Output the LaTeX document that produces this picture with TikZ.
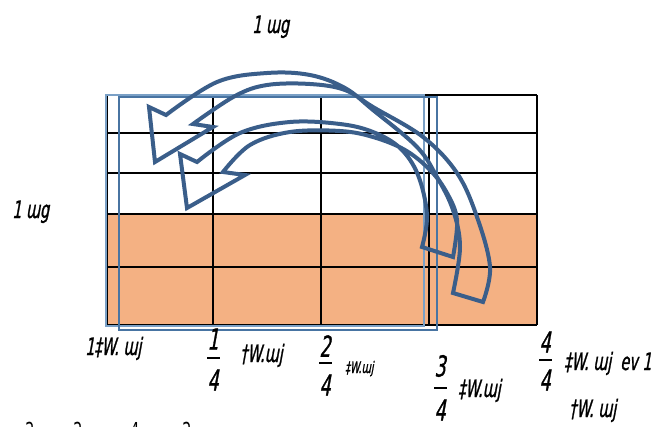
\documentclass[tikz,border=0pt]{standalone}
\usepackage{fontspec}
\newfontfamily\lbl[FakeStretch=0.6,FakeSlant=0.18,FakeBold=1]{DejaVu Sans}
\newfontfamily\lblup[FakeStretch=0.65]{DejaVu Sans}
\definecolor{cellorange}{RGB}{244,177,131}
\definecolor{arrowblue}{RGB}{58,94,138}
\definecolor{frameA}{RGB}{122,160,198}
\definecolor{frameB}{RGB}{72,116,162}
\begin{document}
\begin{tikzpicture}[x=1pt, y=-1pt,
    grid/.style={line width=1.5pt},
    frame/.style={line width=1.6pt},
    bentarrow/.style={draw=arrowblue, line width=4pt, line join=miter},
    lab/.style={font=\fontsize{24}{26}\selectfont\lbl, inner sep=0pt, anchor=base west},
    smalllab/.style={font=\fontsize{16}{18}\selectfont\lbl, inner sep=0pt, anchor=base west},
    digit/.style={font=\fontsize{29}{31}\selectfont\lbl, inner sep=0pt},
    lowdigit/.style={font=\fontsize{22}{24}\selectfont\lblup, inner sep=0pt, anchor=north},
    fbar/.style={fill=black, inner sep=0pt, minimum width=13pt, minimum height=1.2pt}
]
\useasboundingbox (0,0) rectangle (651,426);
\begin{scope}
\clip (0,0) rectangle (651,426);
% table of cells
\fill[cellorange] (107,214) rectangle (537,325);
\foreach \y in {95,133,173,214,267,325} \draw[grid] (107,\y) -- (537,\y);
\foreach \x in {107,213,321,429,537} \draw[grid] (\x,95) -- (\x,325);
% two frames
\draw[frame, frameA] (106,95) rectangle (424,326);
\draw[frame, frameB] (119,97) rectangle (437,330);
% curved arrows
\draw[bentarrow] (483,302)
  -- plot[smooth, tension=0.6] coordinates {(483,302) (490,267) (477,217) (457,173) (423,137) (373,107) (345,90) (310,84) (267,85) (235,96) (193,124)}
  -- (213,127) -- (155,162) -- (149,107) -- (166,115)
  -- plot[smooth, tension=0.6] coordinates {(166,115) (217,82) (267,73) (310,75) (345,88) (373,110) (417,147) (437,177) (453,210) (460,247) (453,293)}
  -- cycle;
\draw[bentarrow] (453,257)
  -- plot[smooth, tension=0.6] coordinates {(453,257) (457,220) (447,193) (430,170) (405,150) (373,137) (340,131) (290,132) (250,145) (223,172)}
  -- (245,175) -- (187,208) -- (180,154) -- (197,162)
  -- plot[smooth, tension=0.6] coordinates {(197,162) (240,133) (290,122) (340,124) (373,132) (400,148) (418,175) (427,215) (422,247)}
  -- cycle;
% labels
\node[lab] (topunit) at (252,33) {1 ɯg};
\node[lab] (sideunit) at (12,218) {1 ɯg};
\node[lab] (wholelab) at (85,355) {1‡W. ɯj};
\node[digit] (num1) at (213,339) {1};
\node[fbar] (bar1) at (213,358) {};
\node[digit] (den1) at (213,380) {4};
\node[lab] (qlab1) at (240,362) {†W.ɯj};
\node[digit] (num2) at (325,346) {2};
\node[fbar] (bar2) at (325,363) {};
\node[digit] (den2) at (325,385) {4};
\node[smalllab] (qlab2) at (345,373) {‡W.ɯj};
\node[digit] (num3) at (440,366) {3};
\node[fbar] (bar3) at (440,388) {};
\node[digit] (den3) at (440,410) {4};
\node[lab] (qlab3) at (458,397) {‡W.ɯj};
\node[digit] (num4) at (545,342) {4};
\node[fbar] (bar4) at (545,360) {};
\node[digit] (den4) at (545,380) {4};
\node[lab] (qlab4) at (564,370) {‡W. ɯj\ \ ev 1};
\node[lab] (extralab) at (569,417) {†W. ɯj};
\foreach \x/\d [count=\i] in {30/2,78/2,135/4,187/2}
  \node[lowdigit] (low\i) at (\x,422) {\d};
\end{scope}
\end{tikzpicture}
\end{document}
